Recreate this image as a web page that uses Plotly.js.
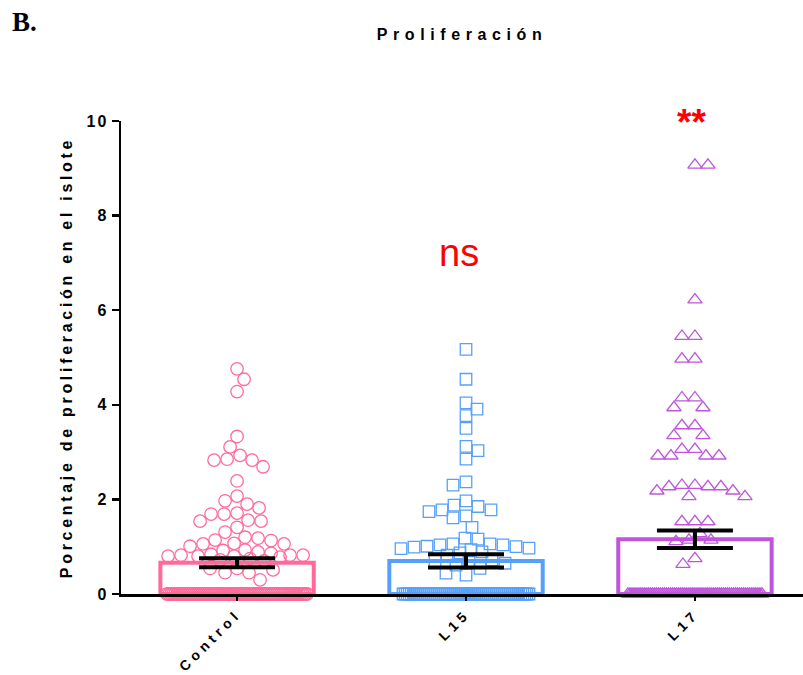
<!DOCTYPE html>
<html><head><meta charset="utf-8">
<script src="https://cdn.plot.ly/plotly-3.0.1.min.js"></script>
<style>body{margin:0;background:#fff}#chart{width:803px;height:675px}</style>
</head><body><div id="chart"></div>
<script>
// ---- data ----
const categories = ['Control', 'L15', 'L17'];
const controlValues = [4.76, 4.54, 4.28, 3.33, 3.11, 2.93, 2.85, 2.83, 2.83, 2.69, 2.39, 2.07, 1.97, 1.90, 1.82, 1.71, 1.69, 1.69, 1.56, 1.54, 1.54, 1.41, 1.31, 1.20, 1.18, 1.14, 1.13, 1.07, 1.06, 1.06, 1.01, 0.93, 0.92, 0.89, 0.86, 0.84, 0.82, 0.82, 0.82, 0.80, 0.80, 0.80, 0.78, 0.75, 0.72, 0.70, 0.54, 0.54, 0.51, 0.45, 0.45, 0.30];
const l15Values = [5.17, 4.54, 4.04, 3.91, 3.77, 3.50, 3.12, 3.03, 2.85, 2.37, 2.30, 1.97, 1.88, 1.85, 1.78, 1.78, 1.74, 1.65, 1.61, 1.41, 1.18, 1.16, 1.06, 1.06, 1.04, 1.04, 1.01, 1.00, 0.99, 0.97, 0.96, 0.94, 0.89, 0.87, 0.82, 0.72, 0.70, 0.67, 0.65, 0.61, 0.54, 0.44, 0.40];
const l17Values = [9.07, 9.07, 6.22, 5.45, 5.45, 4.97, 4.97, 4.15, 4.15, 3.94, 3.94, 3.56, 3.56, 3.35, 3.35, 3.06, 3.06, 2.92, 2.92, 2.92, 2.92, 2.30, 2.30, 2.27, 2.27, 2.27, 2.18, 2.18, 2.06, 2.06, 1.53, 1.53, 1.53, 1.28, 1.14, 1.14, 1.11, 0.75, 0.63];
const zeroCounts = [70, 63, 67];          // islets with 0 % proliferation per group
const means = [0.66, 0.70, 1.16];
const sems = [0.095, 0.14, 0.185];
const yTicks = [0, 2, 4, 6, 8, 10];
const groupValues = [controlValues, l15Values, l17Values];

// ---- styles / layout constants ----
const colors = ['#FF6A9A', '#57A0FA', '#BE55DC'];
const symbols = ['circle-open', 'square-open', 'triangle-up-open'];
const markerSizes = [12.5, 11.5, 12.5];
const W = 803, H = 675, M = {l: 121, r: 0, t: 121, b: 81};
const xRange = [-0.507, 2.472], yRange = [0, 10];
const pxX = (W - M.l - M.r) / (xRange[1] - xRange[0]);
const pxY = (H - M.t - M.b) / (yRange[1] - yRange[0]);

// deterministic beeswarm layout (pixel space)
function swarm(values, zeroCount, diam, maxHalf, zeroHalf) {
  const xs = [], ys = [];
  const placed = [];
  const sorted = values.slice().sort((a, b) => b - a);
  sorted.forEach((v, idx) => {
    const py = v * pxY;
    let chosen = null, bestX = 0, bestD = -1;
    for (let k = 0; k <= maxHalf && chosen === null; k++) {
      const cands = k === 0 ? [0] : (idx % 2 ? [k, -k] : [-k, k]);
      for (const dx of cands) {
        let minD = Infinity;
        for (const p of placed) {
          const d = Math.hypot(dx - p.x, py - p.y);
          if (d < minD) minD = d;
        }
        if (minD >= diam) { chosen = dx; break; }
        if (minD > bestD) { bestD = minD; bestX = dx; }
      }
    }
    if (chosen === null) chosen = bestX;
    placed.push({x: chosen, y: py});
    xs.push(chosen); ys.push(v);
  });
  const n = zeroCount;
  const half = Math.min(zeroHalf, (n - 1) * diam / 2, n * 1.0);
  for (let i = 0; i < n; i++) {
    xs.push(n > 1 ? -half + i * (2 * half / (n - 1)) : 0);
    ys.push(0);
  }
  return {xs, ys};
}

const data = [];
data.push({
  type: 'bar', x: [0, 1, 2], y: means, width: 0.67,
  marker: {color: 'rgba(255,255,255,0)', line: {color: colors, width: 4}},
  hoverinfo: 'skip'
});
groupValues.forEach((vals, g) => {
  const s = swarm(vals, zeroCounts[g], 12.5, 70, 71);
  data.push({
    type: 'scatter', mode: 'markers', cliponaxis: false,
    x: s.xs.map(d => g + d / pxX), y: s.ys,
    marker: {symbol: symbols[g], size: markerSizes[g], color: colors[g],
             line: {color: colors[g], width: 1.3}},
    hoverinfo: 'skip'
  });
});
data.push({
  type: 'scatter', mode: 'markers', x: [0, 1, 2], y: means, cliponaxis: false,
  marker: {size: 1, color: 'rgba(0,0,0,0)'},
  error_y: {type: 'data', array: sems, visible: true, color: '#000', thickness: 4, width: 38},
  hoverinfo: 'skip'
});

const font = 'Liberation Sans, Arial, sans-serif';
const layout = {
  width: W, height: H,
  margin: {l: M.l, r: M.r, t: M.t, b: M.b, pad: 0},
  paper_bgcolor: '#fff', plot_bgcolor: '#fff', showlegend: false,
  font: {family: font, color: '#000'},
  title: {text: 'Proliferación', x: 0.5, xref: 'paper', xanchor: 'center',
          y: 1 - 34 / H, yref: 'container', yanchor: 'middle',
          font: {family: font, size: 16, weight: 'bold', color: '#000'}},
  xaxis: {range: xRange, tickvals: [0, 1, 2], ticktext: categories, tickangle: -45,
          showline: true, linecolor: '#000', linewidth: 2.5,
          ticks: 'outside', ticklen: 4, tickwidth: 2, tickcolor: '#000',
          showgrid: false, zeroline: false, automargin: false,
          tickfont: {family: font, size: 14, weight: 'bold', color: '#000'}},
  yaxis: {range: yRange, tickvals: yTicks,
          showline: true, linecolor: '#000', linewidth: 2.5,
          ticks: 'outside', ticklen: 7, tickwidth: 2.5, tickcolor: '#000',
          showgrid: false, zeroline: false, automargin: false,
          tickfont: {family: font, size: 16, weight: 'bold', color: '#000'},
          title: {text: 'Porcentaje de proliferación en el islote', standoff: 14,
                  font: {family: font, size: 16, weight: 'bold', color: '#000'}}},
  annotations: [
    {text: 'B.', xref: 'paper', yref: 'paper', x: (25 - M.l) / (W - M.l - M.r), y: (594 - 22) / (H - M.t - M.b),
     showarrow: false, xanchor: 'center', yanchor: 'middle',
     font: {family: 'Liberation Serif, Times New Roman, serif', size: 27, weight: 'bold', color: '#000'}},
    {text: 'ns', xref: 'x', yref: 'y', x: 0.97, y: 7.21, showarrow: false,
     xanchor: 'center', yanchor: 'middle', font: {family: font, size: 38, color: '#FF0000'}},
    {text: '**', xref: 'x', yref: 'y', x: 1.983, y: 9.96, showarrow: false,
     xanchor: 'center', yanchor: 'middle', font: {family: font, size: 37, weight: 'bold', color: '#FF0000'}}
  ]
};

Plotly.newPlot('chart', data, layout, {staticPlot: true, displayModeBar: false}).then(gd => {
  gd.querySelectorAll('.gtitle').forEach(t => t.style.letterSpacing = '5.6px');
  gd.querySelectorAll('.ytitle').forEach(t => t.style.letterSpacing = '3.7px');
  gd.querySelectorAll('.xtick text').forEach(t => t.style.letterSpacing = '4.4px');
  gd.querySelectorAll('.ytick text').forEach(t => t.style.letterSpacing = '2px');
});
</script>
</body></html>
